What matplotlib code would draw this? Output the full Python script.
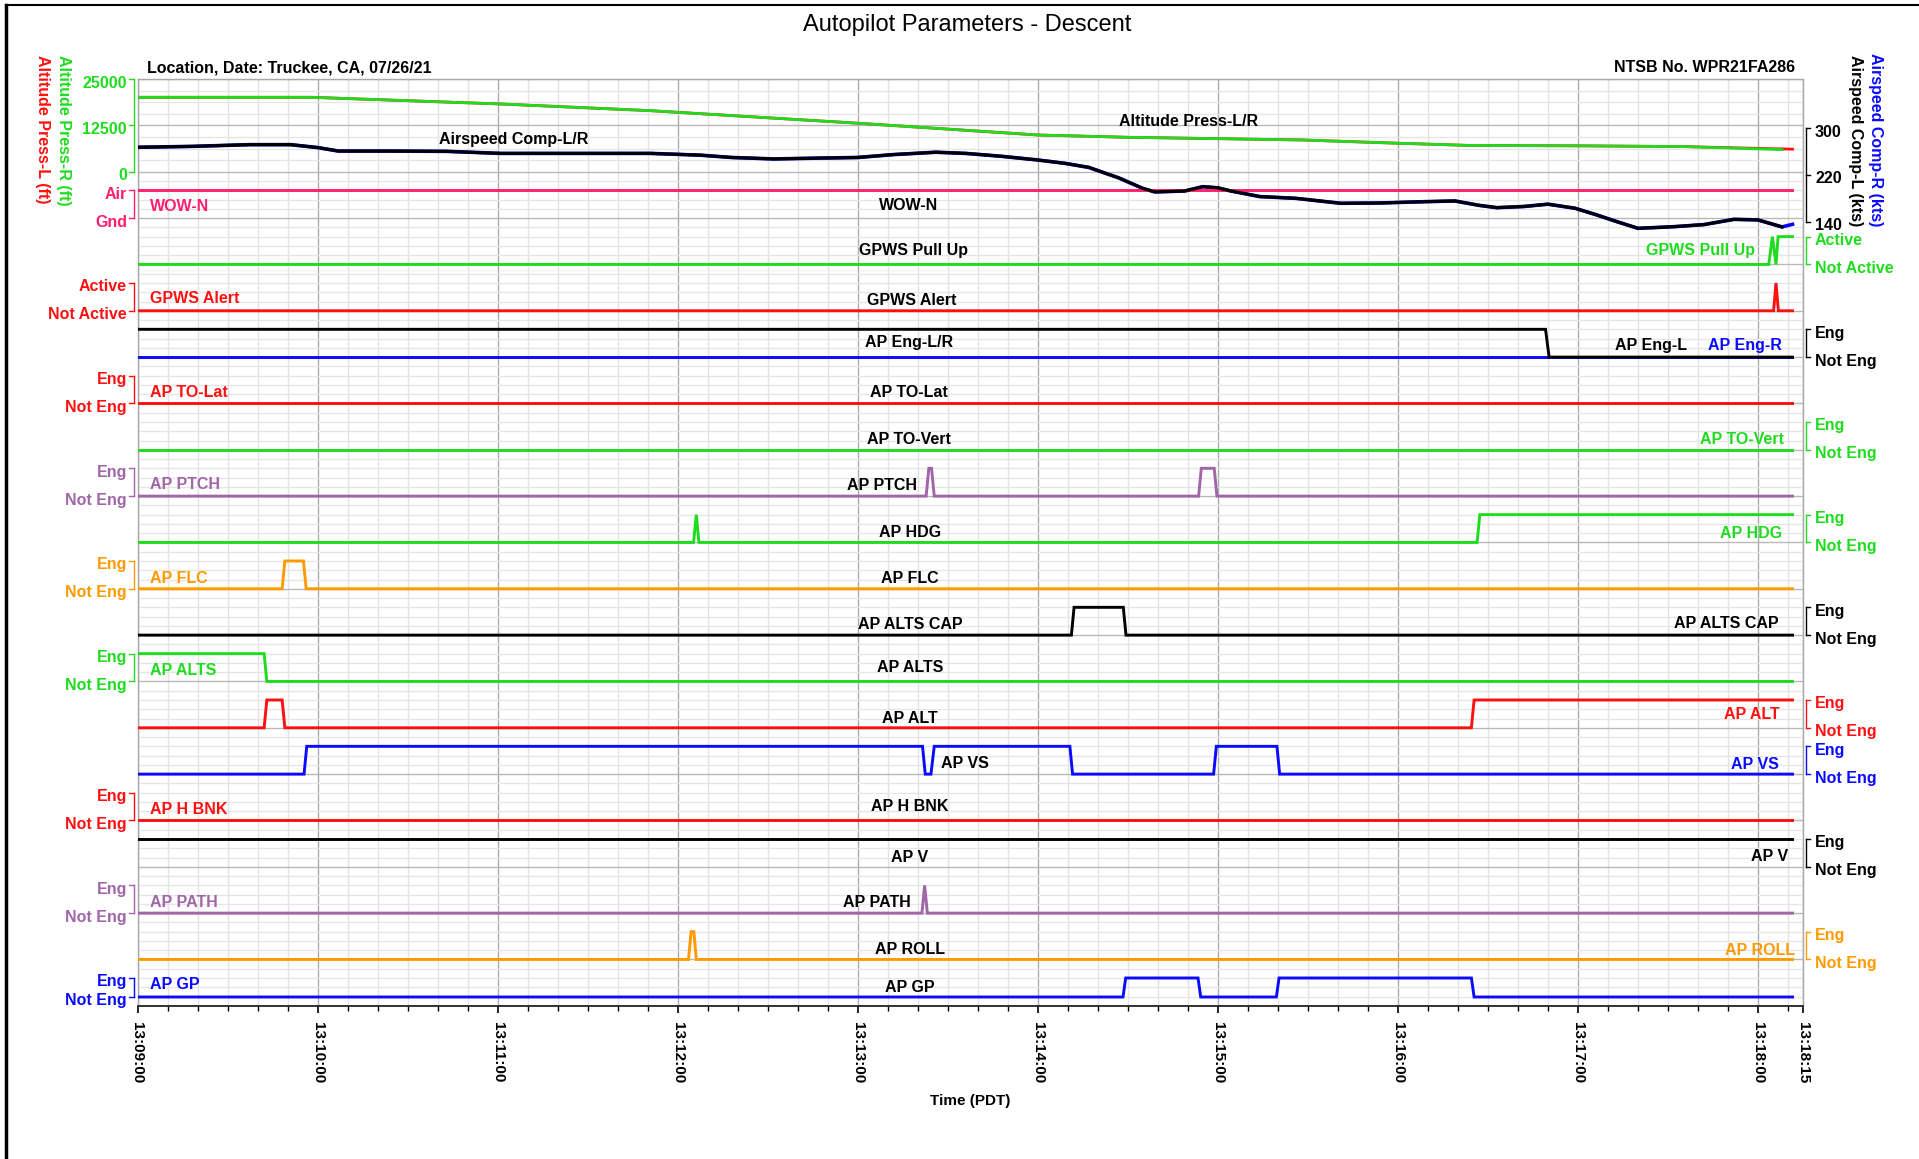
import matplotlib.pyplot as plt
import matplotlib.transforms as mtransforms
from matplotlib.lines import Line2D

plt.rcParams['font.family'] = ['Liberation Sans', 'DejaVu Sans']

# ---------------- data (time = seconds after 13:09:00) ----------------
END = 551.5

alt_time = [0, 58, 121, 171, 240, 300, 330, 360, 388, 420, 444, 480, 515, 551.5]
alt_ft = [20090, 20090, 18290, 16480, 13100, 9920, 9300, 8930, 8580, 7700, 7100, 7000, 6800, 6100]

ias_time = [0, 18, 37.5, 51, 60, 67, 84, 103, 121, 150, 171, 187.5, 198, 212, 228, 240,
            252, 266, 276, 288, 300, 309, 317, 327, 335, 339, 349, 355, 360, 364, 374,
            386, 401, 414, 427, 439, 447, 453, 462, 470, 479, 486, 493, 500, 512, 522,
            532, 540, 548, 551.5]
ias_kts = [267.5, 269, 272, 272, 267, 261, 261, 260.5, 257, 257, 257, 254, 250, 247.5, 249, 250,
           255, 259, 257, 252, 245.7, 240, 233, 215, 197, 191, 192.6, 200, 198, 193, 183,
           180, 171.5, 172, 174, 175.5, 168, 164, 166, 170, 163, 152, 140, 128.6, 131.4, 135,
           144, 143, 131, 135.5]

wow_t, wow_s = [0, END], [1, 1]
pullup_t = [0, 543.6, 544.8, 546.0, 546.7, END]
pullup_s = [0, 0, 1, 0, 1, 1]
alert_t = [0, 545.2, 546.0, 546.8, END]
alert_s = [0, 0, 1, 0, 0]
engl_t = [0, 469.2, 470.4, END]
engl_s = [1, 1, 0, 0]
engr_t, engr_s = [0, END], [0, 0]
tolat_t, tolat_s = [0, END], [0, 0]
tovert_t, tovert_s = [0, END], [0, 0]
ptch_t = [0, 262.8, 263.7, 264.6, 265.5, 353.6, 354.5, 358.8, 359.7, END]
ptch_s = [0, 0, 1, 1, 0, 0, 1, 1, 0, 0]
hdg_t = [0, 185.3, 186.2, 187.1, 446.4, 447.3, END]
hdg_s = [0, 0, 1, 0, 0, 1, 1]
flc_t = [0, 48.2, 49.1, 55.3, 56.2, END]
flc_s = [0, 0, 1, 1, 0, 0]
altscap_t = [0, 311.2, 312.1, 328.5, 329.4, END]
altscap_s = [0, 0, 1, 1, 0, 0]
alts_t = [0, 42.2, 43.1, END]
alts_s = [1, 1, 0, 0]
altm_t = [0, 42.2, 43.1, 48.2, 49.1, 444.5, 445.4, END]
altm_s = [0, 0, 1, 1, 0, 0, 1, 1]
vs_t = [0, 55.5, 56.4, 261.6, 262.5, 264.4, 265.5, 310.7, 311.6, 358.6, 359.5, 379.7, 380.6, END]
vs_s = [0, 0, 1, 1, 0, 0, 1, 1, 0, 0, 1, 1, 0, 0]
hbnk_t, hbnk_s = [0, END], [0, 0]
apv_t, apv_s = [0, END], [1, 1]
path_t = [0, 261.4, 262.3, 263.2, END]
path_s = [0, 0, 1, 0, 0]
roll_t = [0, 183.6, 184.5, 185.4, 186.2, END]
roll_s = [0, 0, 1, 1, 0, 0]
gp_t = [0, 328.4, 329.3, 353.4, 354.3, 379.5, 380.4, 444.5, 445.4, END]
gp_s = [0, 0, 1, 1, 0, 0, 1, 1, 0, 0]

tick_sec = [0, 60, 120, 180, 240, 300, 360, 420, 480, 540, 555]
tick_labels = ['13:09:00', '13:10:00', '13:11:00', '13:12:00', '13:13:00', '13:14:00',
               '13:15:00', '13:16:00', '13:17:00', '13:18:00', '13:18:15']

# ---------------- colours ----------------
GREEN = '#1fdc1f'
RED = '#ff1010'
PINK = '#ff1f6e'
PURPLE = '#a066a8'
ORANGE = '#ff9a00'
BLUE = '#0a0aff'
BLACK = '#000000'

W, H = 1919, 1159
X0, X1 = 137.5, 1803.0
Y0, Y1 = 79.1, 1005.8


def fx(px):
    # figure pixel -> axes fraction (x)
    return (px - X0) / (X1 - X0)


fig = plt.figure(figsize=(W / 100, H / 100), dpi=100)
ax = fig.add_axes([X0 / W, 1 - Y1 / H, (X1 - X0) / W, (Y1 - Y0) / H])
ax.set_xlim(0, 555)
ax.set_ylim(20, 0)

# grid
ax.set_xticks(tick_sec)
ax.set_xticklabels(tick_labels, rotation=270, fontweight='bold', fontsize=11)
ax.set_xticks([s for s in range(0, 556, 10) if s % 60 != 0], minor=True)
ax.set_yticks(range(0, 21))
ax.set_yticks([i * 0.25 for i in range(8)] + [2 + i * 0.2 for i in range(91)], minor=True)
ax.tick_params(axis='y', which='both', length=0, labelleft=False)
ax.tick_params(axis='x', which='major', length=5, width=1.2, pad=7, direction='out')
ax.tick_params(axis='x', which='minor', length=3.8, width=1.0, direction='out')
ax.grid(True, which='major', axis='x', color='#ababab', lw=1.0)
ax.grid(True, which='minor', axis='x', color='#e3e3e3', lw=1.0)
ax.grid(True, which='major', axis='y', color='#b8b8b8', lw=1.0)
ax.grid(True, which='minor', axis='y', color='#e6e6e6', lw=1.0)
ax.set_axisbelow(True)
for sp in ['top', 'left', 'right']:
    ax.spines[sp].set_color('#a8a8a8')
    ax.spines[sp].set_linewidth(1.0)
ax.spines['bottom'].set_color('#222222')
ax.spines['bottom'].set_linewidth(1.3)

# ---------------- top panel: altitude & airspeed ----------------
alt_y = [2.0 - a / 25000 * 2.0 for a in alt_ft]
ax.plot(alt_time, alt_y, color=RED, lw=2.0, zorder=3)
ax.plot(alt_time[:-1] + [548], alt_y[:-1] + [alt_y[-1] + 0.01], color=GREEN, lw=2.0, zorder=4)


def ias_row(k):
    return 3.077 - (k - 140) / 160 * 2.015


ias_y = [ias_row(k) for k in ias_kts]
ax.plot(ias_time, ias_y, color=BLUE, lw=2.6, zorder=3)
ax.plot(ias_time[:-1], ias_y[:-1], color=BLACK, lw=2.3, zorder=4)

# ---------------- discrete tracks ----------------
ENG = 0.6
tracks = [
    (wow_t, wow_s, 3, ENG, PINK),
    (pullup_t, pullup_s, 4, ENG, GREEN),
    (alert_t, alert_s, 5, ENG, RED),
    (engr_t, engr_s, 6, ENG, BLUE),
    (engl_t, engl_s, 6, ENG, BLACK),
    (tolat_t, tolat_s, 7, ENG, RED),
    (tovert_t, tovert_s, 8, ENG, GREEN),
    (ptch_t, ptch_s, 9, ENG, PURPLE),
    (hdg_t, hdg_s, 10, ENG, GREEN),
    (flc_t, flc_s, 11, ENG, ORANGE),
    (altscap_t, altscap_s, 12, ENG, BLACK),
    (alts_t, alts_s, 13, ENG, GREEN),
    (altm_t, altm_s, 14, ENG, RED),
    (vs_t, vs_s, 15, ENG, BLUE),
    (hbnk_t, hbnk_s, 16, ENG, RED),
    (apv_t, apv_s, 17, ENG, BLACK),
    (path_t, path_s, 18, ENG, PURPLE),
    (roll_t, roll_s, 19, ENG, ORANGE),
    (gp_t, gp_s, 19.81, 0.41, BLUE),
]
for t, s, base, eng, c in tracks:
    ax.plot(t, [base - v * eng for v in s], color=c, lw=2.1, zorder=3, solid_joinstyle='miter')

# ---------------- brackets / side scales ----------------
tr = mtransforms.blended_transform_factory(ax.transAxes, ax.transData)
LBX, LTX, LLX = fx(134.0), fx(129.0), fx(127.0)
RBX, RTX, RLX = fx(1805.5), fx(1810.0), fx(1815.0)
FS = 11.5


def bracket(side, levels, labels, color):
    top, bot = min(levels), max(levels)
    if side == 'L':
        bx, tx, lx, ha = LBX, LTX, LLX, 'right'
    else:
        bx, tx, lx, ha = RBX, RTX, RLX, 'left'
    ax.add_line(Line2D([bx, bx], [top, bot], transform=tr, color=color, lw=1.0, clip_on=False))
    for lv, lab in zip(levels, labels):
        ax.add_line(Line2D([bx, tx], [lv, lv], transform=tr, color=color, lw=1.0, clip_on=False))
        ax.text(lx, lv + 0.085, lab, transform=tr, ha=ha, va='center', color=color,
                fontsize=FS, fontweight='bold', clip_on=False)


bracket('L', [0, 1, 2], ['25000', '12500', '0'], GREEN)
bracket('R', [ias_row(300), ias_row(220), ias_row(140)], ['300', '220', '140'], BLACK)
bracket('L', [2.4, 3], ['Air', 'Gnd'], PINK)
bracket('R', [3.4, 4], ['Active', 'Not Active'], GREEN)
bracket('L', [4.4, 5], ['Active', 'Not Active'], RED)
bracket('R', [5.4, 6], ['Eng', 'Not Eng'], BLACK)
bracket('L', [6.4, 7], ['Eng', 'Not Eng'], RED)
bracket('R', [7.4, 8], ['Eng', 'Not Eng'], GREEN)
bracket('L', [8.4, 9], ['Eng', 'Not Eng'], PURPLE)
bracket('R', [9.4, 10], ['Eng', 'Not Eng'], GREEN)
bracket('L', [10.4, 11], ['Eng', 'Not Eng'], ORANGE)
bracket('R', [11.4, 12], ['Eng', 'Not Eng'], BLACK)
bracket('L', [12.4, 13], ['Eng', 'Not Eng'], GREEN)
bracket('R', [13.4, 14], ['Eng', 'Not Eng'], RED)
bracket('R', [14.4, 15], ['Eng', 'Not Eng'], BLUE)
bracket('L', [15.4, 16], ['Eng', 'Not Eng'], RED)
bracket('R', [16.4, 17], ['Eng', 'Not Eng'], BLACK)
bracket('L', [17.4, 18], ['Eng', 'Not Eng'], PURPLE)
bracket('R', [18.4, 19], ['Eng', 'Not Eng'], ORANGE)
bracket('L', [19.4, 19.81], ['Eng', 'Not Eng'], BLUE)

# ---------------- in-plot labels ----------------
center_labels = [
    ('Airspeed Comp-L/R', 514, 1.30), ('Altitude Press-L/R', 1189, 0.915),
    ('WOW-N', 909, 2.72), ('GPWS Pull Up', 913, 3.70), ('GPWS Alert', 912, 4.77),
    ('AP Eng-L/R', 909, 5.69), ('AP TO-Lat', 909, 6.77), ('AP TO-Vert', 909, 7.77),
    ('AP PTCH', 882, 8.78), ('AP HDG', 910, 9.78), ('AP FLC', 910, 10.77),
    ('AP ALTS CAP', 910, 11.77), ('AP ALTS', 910, 12.69), ('AP ALT', 910, 13.80),
    ('AP VS', 965, 14.77), ('AP H BNK', 910, 15.69), ('AP V', 910, 16.81),
    ('AP PATH', 877, 17.78), ('AP ROLL', 910, 18.79), ('AP GP', 910, 19.61),
]
for txt, px, row in center_labels:
    ax.text(fx(px), row, txt, transform=tr, ha='center', va='center', color=BLACK,
            fontsize=FS, fontweight='bold')

left_labels = [
    ('WOW-N', 2.76, PINK), ('GPWS Alert', 4.74, RED), ('AP TO-Lat', 6.77, RED),
    ('AP PTCH', 8.76, PURPLE), ('AP FLC', 10.77, ORANGE), ('AP ALTS', 12.77, GREEN),
    ('AP H BNK', 15.76, RED), ('AP PATH', 17.76, PURPLE), ('AP GP', 19.55, BLUE),
]
for txt, row, c in left_labels:
    ax.text(fx(150), row, txt, transform=tr, ha='left', va='center', color=c,
            fontsize=FS, fontweight='bold')

right_labels = [
    ('GPWS Pull Up', 1755, 3.70, GREEN), ('AP Eng-L', 1687, 5.74, BLACK),
    ('AP Eng-R', 1782, 5.74, BLUE), ('AP TO-Vert', 1784, 7.78, GREEN),
    ('AP HDG', 1782, 9.80, GREEN), ('AP ALTS CAP', 1779, 11.76, BLACK),
    ('AP ALT', 1780, 13.72, RED), ('AP VS', 1779, 14.80, BLUE),
    ('AP V', 1788, 16.78, BLACK), ('AP ROLL', 1795, 18.80, ORANGE),
]
for txt, px, row, c in right_labels:
    ax.text(fx(px), row, txt, transform=tr, ha='right', va='center', color=c,
            fontsize=FS, fontweight='bold')

# ---------------- figure texts ----------------
fig.text(967 / W, 1 - 25 / H, 'Autopilot Parameters - Descent', ha='center', va='center',
         fontsize=17)
fig.text(147 / W, 1 - 68 / H, 'Location, Date: Truckee, CA, 07/26/21', ha='left',
         va='center', fontsize=FS, fontweight='bold')
fig.text(1795 / W, 1 - 68 / H, 'NTSB No. WPR21FA286', ha='right', va='center',
         fontsize=FS, fontweight='bold')
fig.text(970 / W, 1 - 1101 / H, 'Time (PDT)', ha='center', va='center', fontsize=11,
         fontweight='bold')

fig.text(42.5 / W, 1 - 55 / H, 'Altitude Press-L (ft)', rotation=270, ha='center', va='top',
         color=RED, fontsize=FS, fontweight='bold')
fig.text(63 / W, 1 - 55 / H, 'Altitude Press-R (ft)', rotation=270, ha='center', va='top',
         color=GREEN, fontsize=FS, fontweight='bold')
fig.text(1855.5 / W, 1 - 55 / H, 'Airspeed Comp-L (kts)', rotation=270, ha='center',
         va='top', color=BLACK, fontsize=FS, fontweight='bold')
fig.text(1875.5 / W, 1 - 53 / H, 'Airspeed Comp-R (kts)', rotation=270, ha='center',
         va='top', color=BLUE, fontsize=FS, fontweight='bold')

# outer frame (left and top edges)
fig.add_artist(Line2D([6 / W, 6 / W], [0, 1 - 5 / H], color='black', lw=2.5))
fig.add_artist(Line2D([6 / W, 1], [1 - 5 / H, 1 - 5 / H], color='black', lw=1.5))

fig.savefig('out.png', dpi=100)
